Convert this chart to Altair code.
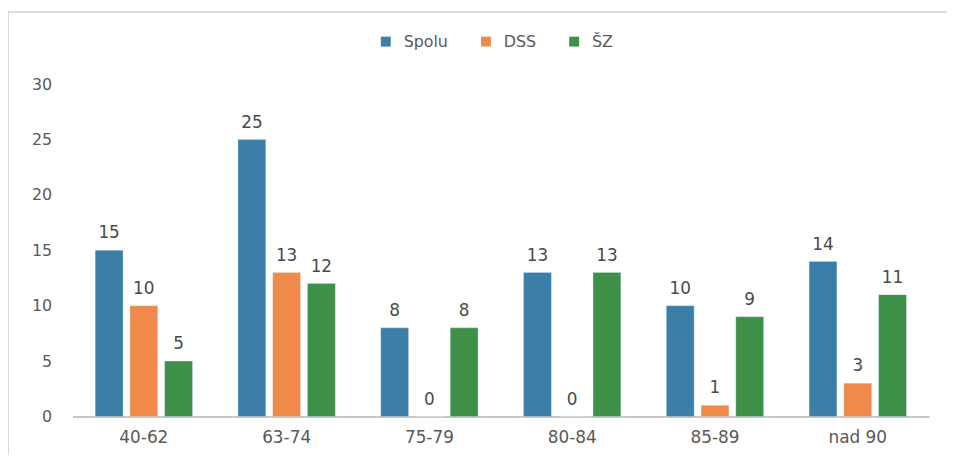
import altair as alt
import pandas as pd

categories = ["40-62", "63-74", "75-79", "80-84", "85-89", "nad 90"]
series = ["Spolu", "DSS", "ŠZ"]
spolu = [15, 25, 8, 13, 10, 14]
dss = [10, 13, 0, 0, 1, 3]
sz = [5, 12, 8, 13, 9, 11]
colors = ["#3b7ea8", "#f08a4b", "#3e8f47"]

rows = []
for i, c in enumerate(categories):
    for s, vals in zip(series, [spolu, dss, sz]):
        rows.append({"kat": c, "skupina": s, "hodnota": vals[i]})
df = pd.DataFrame(rows)

FONT = "DejaVu Sans"

x = alt.X("kat:N", sort=categories, title=None,
          scale=alt.Scale(paddingInner=0.27, paddingOuter=0.135),
          axis=alt.Axis(labelAngle=0, ticks=False, labelPadding=13, labelFontSize=17,
                        labelColor="#595959", labelFont=FONT,
                        domainColor="#c8c8c8", domainWidth=2))
xo = alt.XOffset("skupina:N", sort=series, scale=alt.Scale(paddingInner=0.2, paddingOuter=0.1))
y = alt.Y("hodnota:Q", title=None, scale=alt.Scale(domain=[0, 30], nice=False),
          axis=alt.Axis(values=[0, 5, 10, 15, 20, 25, 30], grid=False, domain=False, ticks=False,
                        labelPadding=21, labelFontSize=16, labelColor="#595959", labelFont=FONT))

bars = alt.Chart(df).mark_bar(stroke="#d9e6ee", strokeWidth=0.6, strokeOpacity=0.6).encode(
    x=x, xOffset=xo, y=y,
    color=alt.Color("skupina:N", sort=series,
                    scale=alt.Scale(domain=series, range=colors),
                    legend=alt.Legend(title=None, orient="none", direction="horizontal",
                                      legendX=308, legendY=-51, symbolType="square",
                                      symbolSize=100, symbolStrokeWidth=0, labelFontSize=16,
                                      labelColor="#595959", labelFont=FONT, columnPadding=30,
                                      labelOffset=10)),
)

labels = alt.Chart(df).mark_text(baseline="alphabetic", dy=-12, fontSize=17, color="#4a4a4a", font=FONT).encode(
    x=alt.X("kat:N", sort=categories), xOffset=alt.XOffset("skupina:N", sort=series),
    y=alt.Y("hodnota:Q"), text=alt.Text("hodnota:Q"),
)

frame_df = pd.DataFrame({"k": [0]})
left_line = alt.Chart(frame_df).mark_rule(color="#d9d9d9", strokeWidth=2).encode(
    x=alt.value(-65), y=alt.value(-73), y2=alt.value(400))
top_line = alt.Chart(frame_df).mark_rule(color="#d9d9d9", strokeWidth=2).encode(
    x=alt.value(-65), x2=alt.value(900), y=alt.value(-73))

chart = alt.layer(left_line, top_line, bars, labels).properties(
    width=864, height=335,
    autosize=alt.AutoSizeParams(type="none"),
    padding={"left": 65, "top": 75, "right": 18, "bottom": 37},
    background="white",
).configure_view(stroke=None, strokeWidth=0)

chart.save("out.html", embed_options={"renderer": "svg", "actions": False})
